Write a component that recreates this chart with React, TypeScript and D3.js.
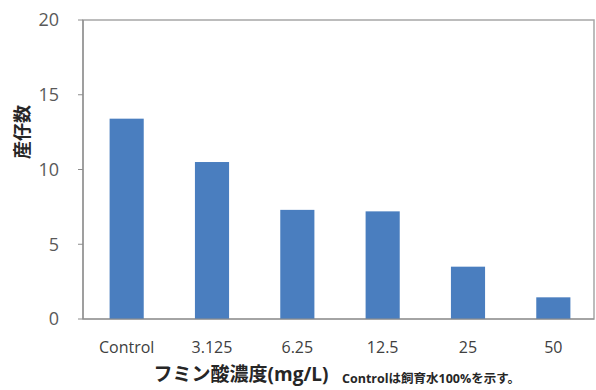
import React from "react";
import * as d3 from "d3";

const categories = ["Control", "3.125", "6.25", "12.5", "25", "50"];
const values = [13.4, 10.5, 7.3, 7.2, 3.5, 1.45];
const yTicks = [0, 5, 10, 15, 20];

const W = 596, H = 390;
const M = { left: 83, right: 2, top: 20, bottom: 71 };

export default function App() {
  const x = d3.scaleBand<string>().domain(categories).range([M.left + 1, W]).paddingInner(0.6).paddingOuter(0.3);
  const y = d3.scaleLinear().domain([0, 20]).range([H - M.bottom, M.top]);
  const font = "'Open Sans', 'Noto Sans CJK JP', sans-serif";
  return (
    <svg width={W} height={H} style={{ position: "absolute", left: 0, top: 0, background: "#fff" }} fontFamily={font}>
      <rect x={M.left} y={M.top} width={W - M.right - M.left} height={H - M.bottom - M.top} fill="none" stroke="#a6a6a6" strokeWidth={1.5} />
      {values.map((v, i) => (
        <rect key={i} x={x(categories[i])} y={y(v)} width={x.bandwidth()} height={y(0) - y(v)} fill="#4a7ebf" />
      ))}
      <line x1={M.left} x2={M.left} y1={M.top} y2={y(0)} stroke="#8c8c8c" strokeWidth={1.2} />
      <line x1={M.left} x2={W - M.right} y1={y(0)} y2={y(0)} stroke="#8c8c8c" strokeWidth={1.2} />
      {yTicks.map((t) => (
        <g key={t}>
          <line x1={M.left - 5} x2={M.left} y1={y(t)} y2={y(t)} stroke="#8c8c8c" />
          <text x={M.left - 24} y={y(t)} dy="0.35em" textAnchor="end" fontSize={18} fill="#595959">{t}</text>
        </g>
      ))}
      {categories.map((c) => (
        <text key={c} x={x(c)! + x.bandwidth() / 2} y={353} textAnchor="middle" fontSize={16} fill="#404040">{c}</text>
      ))}
      <text transform={`translate(29,${132}) rotate(-90)`} textAnchor="middle" fontSize={18} fontWeight="bold" fill="#262626">産仔数</text>
      <text x={241} y={381} textAnchor="middle" fontSize={19} fontWeight="bold" fill="#262626">フミン酸濃度(mg/L)</text>
      <text x={342} y={383} fontSize={12.5} fontWeight="bold" fill="#262626">Controlは飼育水100%を示す。</text>
    </svg>
  );
}
